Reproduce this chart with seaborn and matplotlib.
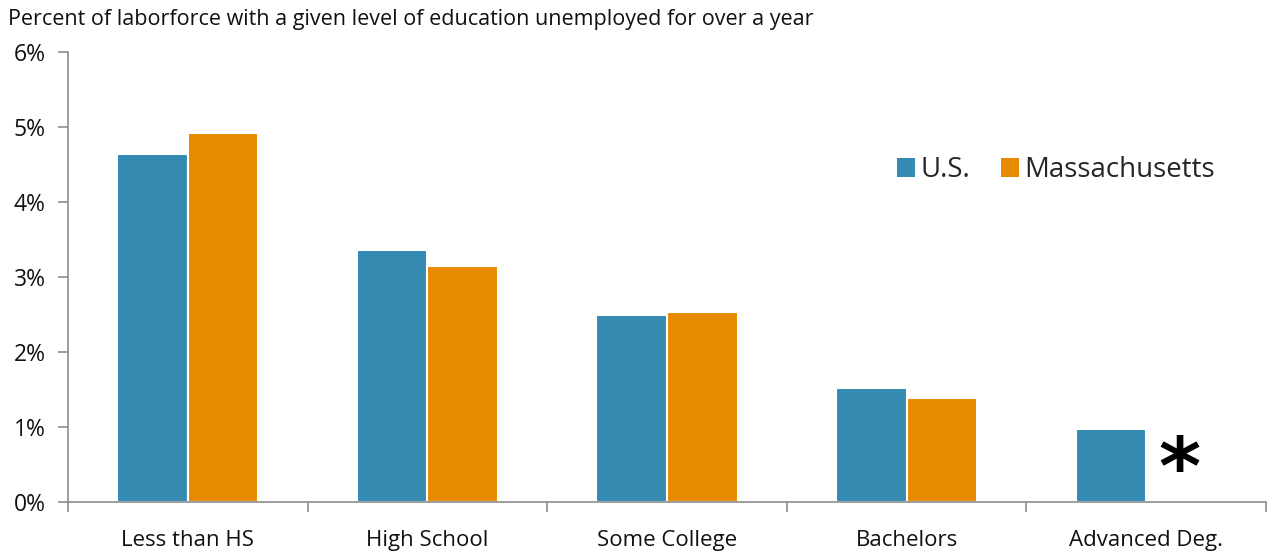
import matplotlib
matplotlib.use("Agg")
import matplotlib.pyplot as plt
import seaborn as sns
import pandas as pd
from matplotlib.ticker import FixedLocator, PercentFormatter
from matplotlib.patches import Patch

categories = ["Less than HS", "High School", "Some College", "Bachelors", "Advanced Deg."]
us_values = [4.64, 3.36, 2.49, 1.52, 0.97]
ma_values = [4.92, 3.15, 2.53, 1.39, None]
series = ["U.S.", "Massachusetts"]
colors = ["#348AB1", "#E88A00"]
title = "Percent of laborforce with a given level of education unemployed for over a year"

rows = []
for c, u, m in zip(categories, us_values, ma_values):
    rows.append({"cat": c, "series": series[0], "val": u})
    rows.append({"cat": c, "series": series[1], "val": m})
df = pd.DataFrame(rows)

sns.set_theme(style="white")
plt.rcParams["font.family"] = ["Open Sans", "DejaVu Sans"]

fig = plt.figure(figsize=(12.67, 5.52), dpi=100)
ax = fig.add_axes([68/1267, 1-502/552, (1266-68)/1267, (502-52)/552])

sns.barplot(data=df, x="cat", y="val", hue="series", order=categories,
            hue_order=series, palette=colors, width=0.59, ax=ax,
            edgecolor="white", linewidth=1.5, saturation=1, legend=False)

ax.set_xlim(-0.5, 4.5)
ax.set_ylim(0, 6)
ax.set_xlabel("")
ax.set_ylabel("")
ax.yaxis.set_major_locator(FixedLocator([0, 1, 2, 3, 4, 5, 6]))
ax.yaxis.set_major_formatter(PercentFormatter(decimals=0))
ax.xaxis.set_minor_locator(FixedLocator([-0.5, 0.5, 1.5, 2.5, 3.5, 4.5]))
ax.tick_params(axis="x", which="major", length=0, labelsize=16, pad=20, labelcolor="#111111")
ax.tick_params(axis="x", which="minor", length=7, width=1.2, color="#8c8c8c", direction="out", bottom=True)
ax.tick_params(axis="y", which="major", length=7, width=1.2, color="#8c8c8c", direction="out",
               left=True, labelsize=16.5, pad=9, labelcolor="#111111")

for s in ["top", "right"]:
    ax.spines[s].set_visible(False)
for s in ["left", "bottom"]:
    ax.spines[s].set_color("#8c8c8c")
    ax.spines[s].set_linewidth(1.2)

handles = [Patch(facecolor=colors[0], edgecolor="none"), Patch(facecolor=colors[1], edgecolor="none")]
fig.legend(handles, series, loc="center left", bbox_to_anchor=(897/1267, 1-170/552), ncol=2,
           frameon=False, fontsize=19.9, handlelength=0.66, handleheight=0.66,
           handletextpad=0.2, columnspacing=1.1, borderaxespad=0, borderpad=0)

ax.text(4.14, 0.40, "*", fontsize=58, fontweight="bold", ha="center", va="center",
        color="black", family="DejaVu Sans")

fig.text(8/1267, 1-19/552, title, fontsize=15.5, ha="left", va="center", color="#111111")

fig.savefig("out.png", dpi=100)
